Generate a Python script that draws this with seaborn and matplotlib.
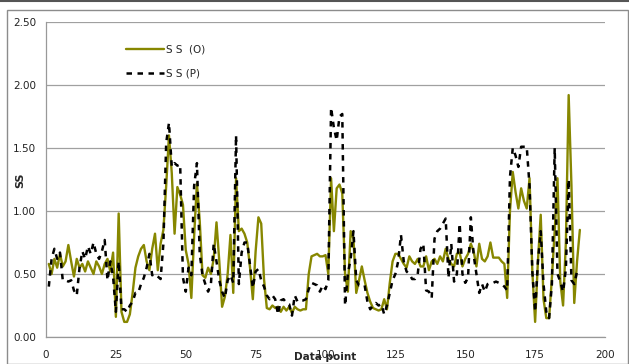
import numpy as np
import pandas as pd
import seaborn as sns
import matplotlib
matplotlib.use("Agg")
import matplotlib.pyplot as plt
from matplotlib.patches import Rectangle
from matplotlib.lines import Line2D

# Observed suspended-solids series, data points 1..191
ss_observed = [
    0.58, 0.50, 0.62, 0.55, 0.66, 0.56, 0.60, 0.73, 0.60, 0.48,
    0.62, 0.55, 0.58, 0.52, 0.60, 0.55, 0.50, 0.60, 0.56, 0.50,
    0.58, 0.62, 0.52, 0.67, 0.16, 0.98, 0.20, 0.12, 0.12, 0.18,
    0.35, 0.55, 0.64, 0.70, 0.73, 0.60, 0.53, 0.70, 0.82, 0.53,
    0.74, 0.85, 1.20, 1.60, 1.30, 0.82, 1.19, 1.13, 1.05, 0.69,
    0.58, 0.31, 0.80, 1.22, 0.92, 0.49, 0.47, 0.55, 0.50, 0.62,
    0.91, 0.60, 0.24, 0.32, 0.50, 0.81, 0.35, 1.26, 0.84, 0.86,
    0.82, 0.75, 0.55, 0.30, 0.68, 0.95, 0.90, 0.46, 0.23, 0.22,
    0.25, 0.23, 0.24, 0.20, 0.24, 0.21, 0.24, 0.19, 0.24, 0.22,
    0.21, 0.22, 0.22, 0.50, 0.64, 0.65, 0.66, 0.64, 0.64, 0.65,
    0.50, 1.26, 0.84, 1.18, 1.21, 1.14, 0.50, 0.36, 0.84, 0.78,
    0.35, 0.45, 0.56, 0.45, 0.35, 0.28, 0.23, 0.22, 0.21, 0.22,
    0.30, 0.22, 0.43, 0.60, 0.66, 0.66, 0.62, 0.58, 0.55, 0.64,
    0.60, 0.58, 0.62, 0.56, 0.56, 0.64, 0.53, 0.60, 0.62, 0.58,
    0.64, 0.60, 0.70, 0.62, 0.58, 0.56, 0.66, 0.67, 0.56, 0.62,
    0.66, 0.74, 0.68, 0.56, 0.74, 0.62, 0.60, 0.64, 0.75, 0.63,
    0.63, 0.63, 0.60, 0.58, 0.31, 1.00, 1.31, 1.15, 1.02, 1.18,
    1.08, 1.02, 1.26, 0.52, 0.12, 0.60, 0.97, 0.30, 0.15, 0.15,
    0.47, 0.84, 1.26, 0.44, 0.25, 0.75, 1.92, 1.20, 0.27, 0.60,
    0.85,
]

# Predicted suspended-solids series, data points 1..190
ss_predicted = [
    0.40, 0.62, 0.70, 0.62, 0.67, 0.45, 0.45, 0.44, 0.45, 0.37,
    0.33, 0.55, 0.68, 0.62, 0.72, 0.66, 0.75, 0.66, 0.62, 0.68,
    0.77, 0.45, 0.60, 0.48, 0.20, 0.60, 0.22, 0.22, 0.20, 0.25,
    0.28, 0.35, 0.35, 0.42, 0.47, 0.55, 0.66, 0.49, 0.50, 0.48,
    0.46, 0.74, 1.54, 1.70, 1.35, 1.38, 1.36, 1.37, 0.47, 0.36,
    0.55, 0.49, 1.20, 1.38, 0.66, 0.49, 0.42, 0.36, 0.42, 0.74,
    0.60, 0.45, 0.36, 0.31, 0.45, 0.49, 0.43, 1.60, 0.42, 0.67,
    0.75, 0.75, 0.57, 0.39, 0.52, 0.54, 0.45, 0.40, 0.33, 0.30,
    0.33, 0.30, 0.18, 0.29, 0.30, 0.27, 0.26, 0.17, 0.33, 0.28,
    0.29, 0.29, 0.30, 0.38, 0.43, 0.42, 0.41, 0.36, 0.41, 0.38,
    0.45, 1.82, 1.66, 1.56, 1.75, 1.77, 0.25, 0.50, 0.62, 0.84,
    0.45, 0.41, 0.41, 0.41, 0.28, 0.22, 0.25, 0.27, 0.25, 0.26,
    0.18, 0.25, 0.35, 0.45, 0.50, 0.60, 0.81, 0.60, 0.52, 0.50,
    0.46, 0.46, 0.50, 0.70, 0.74, 0.37, 0.36, 0.31, 0.78, 0.84,
    0.86, 0.90, 0.94, 0.47, 0.74, 0.44, 0.50, 0.90, 0.50, 0.43,
    0.47, 0.95, 0.65, 0.50, 0.35, 0.42, 0.36, 0.42, 0.43, 0.43,
    0.44, 0.43, 0.42, 0.40, 0.37, 1.27, 1.50, 1.44, 1.35, 1.51,
    1.51, 1.51, 1.20, 0.52, 0.20, 0.60, 0.84, 0.42, 0.20, 0.15,
    0.42, 1.50, 0.50, 0.44, 0.36, 0.54, 1.25, 0.45, 0.42, 0.52,
]

x_ticks = [0, 25, 50, 75, 100, 125, 150, 175, 200]
y_ticks = [0.0, 0.5, 1.0, 1.5, 2.0, 2.5]

obs_df = pd.DataFrame({"point": np.arange(1, len(ss_observed) + 1), "ss": ss_observed})
pred_df = pd.DataFrame({"point": np.arange(1, len(ss_predicted) + 1), "ss": ss_predicted})

sns.set_theme(style="white")
plt.rcParams["font.family"] = ["DejaVu Sans"]

W, H = 629, 364
fig = plt.figure(figsize=(W / 100, H / 100), dpi=100)
ax = fig.add_axes([46 / W, 1 - 337 / H, (605 - 46) / W, (337 - 22) / H])

olive = "#878700"
sns.lineplot(data=obs_df, x="point", y="ss", ax=ax, color=olive, linewidth=1.7)
sns.lineplot(data=pred_df, x="point", y="ss", ax=ax, color="black", linewidth=1.8)
ax.lines[1].set_linestyle((0, (2.2, 2.2)))

ax.set_xlim(0, 200)
ax.set_ylim(0, 2.5)
ax.set_xticks(x_ticks)
ax.set_yticks(y_ticks)
ax.set_yticklabels([f"{v:.2f}" for v in y_ticks])
ax.tick_params(axis="both", labelsize=7.5, length=4, width=0.8,
               direction="out", colors="#888888", labelcolor="#222222")
ax.tick_params(axis="x", pad=5)
ax.tick_params(axis="y", pad=3)
ax.grid(axis="y", color="#a0a0a0", linewidth=0.9)
ax.set_axisbelow(True)
for side in ("top", "right"):
    ax.spines[side].set_visible(False)
for side in ("left", "bottom"):
    ax.spines[side].set_color("#999999")
    ax.spines[side].set_linewidth(0.9)

ax.set_xlabel("Data point", fontsize=7.5, fontweight="bold", va="center")
ax.xaxis.set_label_coords(0.5, (337 - 357) / 315)
ax.set_ylabel("SS", fontsize=8, fontweight="bold", va="center")
ax.yaxis.set_label_coords((20 - 46) / 559, (337 - 180) / 315)

handles = [Line2D([], [], color=olive, linewidth=1.7),
           Line2D([], [], color="black", linewidth=1.8, linestyle=(0, (2.2, 2.2)))]
ax.legend(handles, ["S S  (O)", "S S (P)"], loc="upper left",
          bbox_to_anchor=((122 - 46) / 559, 1 - (40 - 22) / 315),
          frameon=False, fontsize=7.5, handlelength=3.6, handletextpad=0.2,
          labelspacing=1.4, borderaxespad=0)

# outer chart frame
fig.add_artist(Rectangle((7 / W, 0), (W - 8) / W, (H - 10) / H,
                         transform=fig.transFigure, fill=False,
                         edgecolor="#8c8c8c", linewidth=1.0))
fig.add_artist(Line2D([0, 1], [1 - 1 / H, 1 - 1 / H], transform=fig.transFigure,
                      color="#555555", linewidth=1.5))

fig.savefig("out.png", dpi=100)
